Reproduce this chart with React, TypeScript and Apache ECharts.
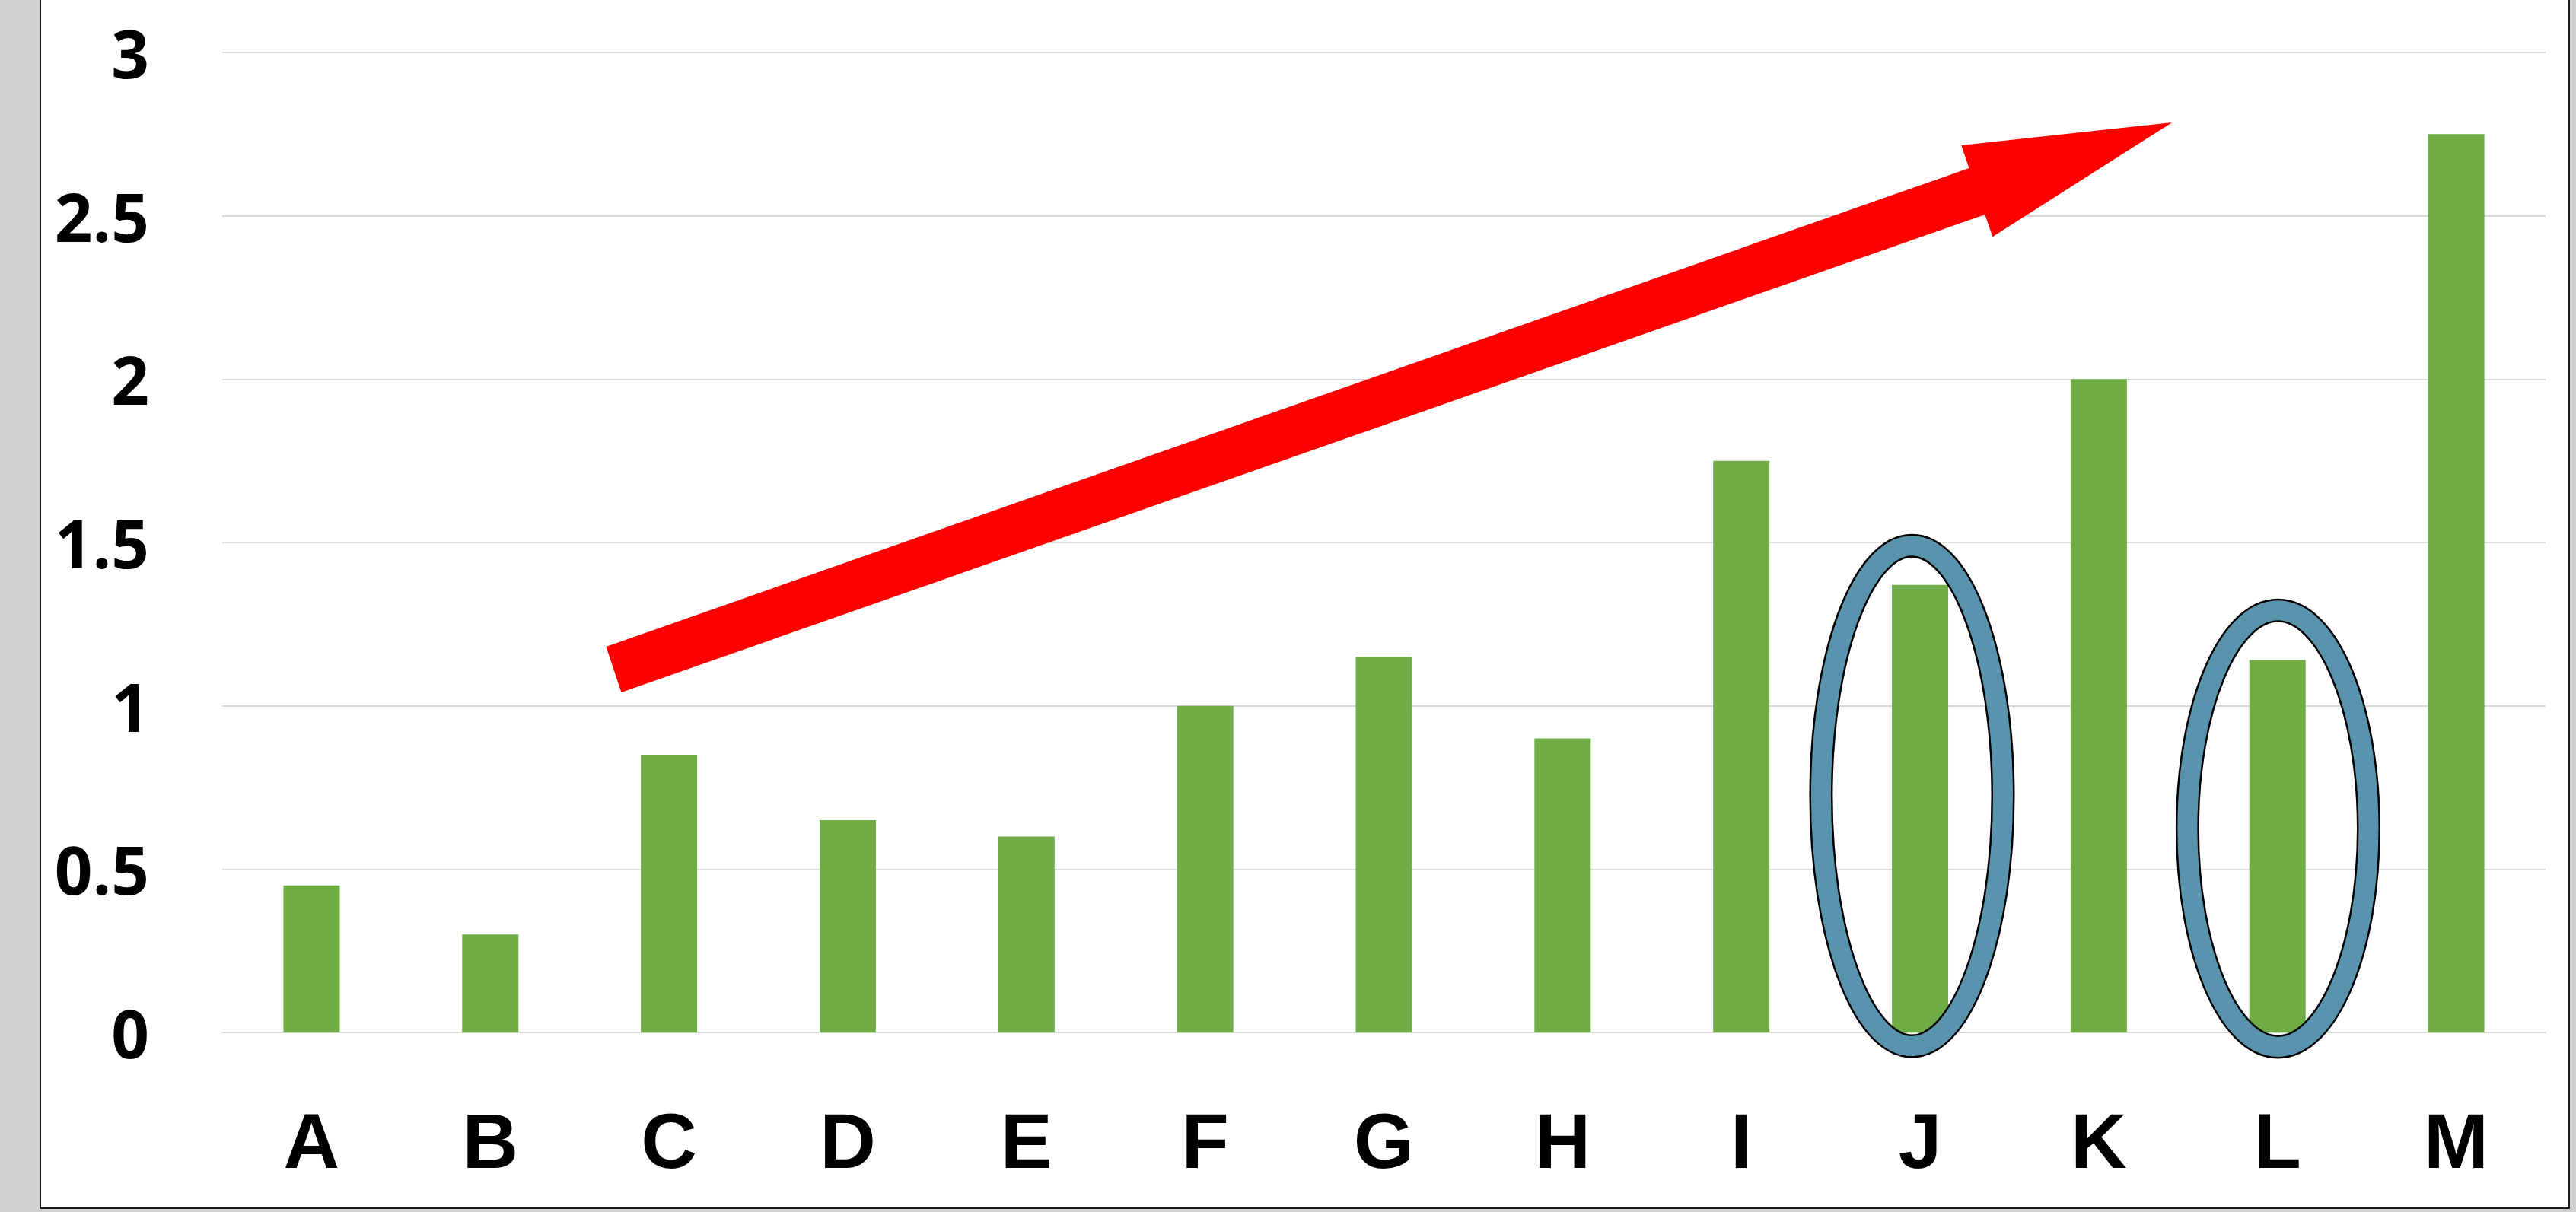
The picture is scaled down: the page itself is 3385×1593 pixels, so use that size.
import React, { useEffect, useRef } from "react";
import * as echarts from "echarts";

// ---- data ----
const categories: string[] = ["A", "B", "C", "D", "E", "F", "G", "H", "I", "J", "K", "L", "M"];
const values: number[] = [0.45, 0.3, 0.85, 0.65, 0.6, 1.0, 1.15, 0.9, 1.75, 1.37, 2.0, 1.14, 2.75];
const yMin = 0;
const yMax = 3;
const yInterval = 0.5;

// ---- annotations, in axis units (category index, value) ----
const arrowPoints: [number, number][] = [
  [1.648, 1.181],
  [9.274, 2.646],
  [9.231, 2.716],
  [10.411, 2.786],
  [9.406, 2.436],
  [9.363, 2.504],
  [1.733, 1.041],
];
// [centre category index, centre value, x radius (categories), y radius (value units)]
const ellipses: [number, number, number, number][] = [
  [8.955, 0.724, 0.509, 0.766],
  [11.003, 0.624, 0.507, 0.668],
];

const W = 3385;
const H = 1593;

export default function App() {
  const ref = useRef<HTMLDivElement>(null);

  useEffect(() => {
    document.body.style.margin = "0";
    if (!ref.current) return;
    const chart = echarts.init(ref.current, null, { renderer: "svg" });
    chart.setOption({
      animation: false,
      backgroundColor: "transparent",
      grid: { left: 292, right: 40, top: 69, bottom: 236, containLabel: false },
      xAxis: {
        type: "category",
        data: categories,
        axisLine: { show: true, lineStyle: { color: "#d9d9d9", width: 2 } },
        axisTick: { show: false },
        axisLabel: {
          color: "#000",
          fontFamily: "Liberation Sans",
          fontWeight: "bold",
          fontSize: 102,
          lineHeight: 102,
          margin: 92,
        },
      },
      yAxis: {
        type: "value",
        min: yMin,
        max: yMax,
        interval: yInterval,
        axisLine: { show: false },
        axisTick: { show: false },
        splitLine: { lineStyle: { color: "#d9d9d9", width: 2 } },
        axisLabel: {
          color: "#000",
          fontFamily: "Open Sans",
          fontWeight: "bold",
          fontSize: 87,
          margin: 96,
          formatter: (v: number) => String(v),
        },
      },
      series: [
        {
          type: "bar",
          data: values,
          barWidth: "31.5%",
          itemStyle: { color: "#70ad47" },
        },
      ],
    });

    const p0 = chart.convertToPixel({ gridIndex: 0 }, [0, 0]) as number[];
    const p1 = chart.convertToPixel({ gridIndex: 0 }, [1, 0]) as number[];
    const step = p1[0] - p0[0];
    const px = (idx: number) => p0[0] + idx * step;
    const py = (v: number) => (chart.convertToPixel({ gridIndex: 0 }, [0, v]) as number[])[1];
    const unitY = p0[1] - py(1);

    const graphic: any[] = [
      {
        type: "polygon",
        z: 100,
        shape: { points: arrowPoints.map(([i, v]) => [px(i), py(v)]) },
        style: { fill: "#ff0000" },
      },
    ];
    ellipses.forEach(([ci, cv, rx, ry]) => {
      const shape = { cx: px(ci), cy: py(cv), rx: rx * step, ry: ry * unitY };
      graphic.push({
        type: "ellipse",
        z: 101,
        shape,
        style: { fill: "none", stroke: "#000", lineWidth: 31 },
      });
      graphic.push({
        type: "ellipse",
        z: 102,
        shape,
        style: { fill: "none", stroke: "#5a93ad", lineWidth: 26 },
      });
    });
    chart.setOption({ graphic });

    return () => chart.dispose();
  }, []);

  return (
    <div style={{ position: "relative", width: W, height: H, background: "#d0d0d0", overflow: "hidden" }}>
      <div
        style={{
          position: "absolute",
          left: 52,
          top: -4,
          width: 3325,
          height: 1593,
          boxSizing: "border-box",
          background: "#fff",
          border: "2px solid #1a1a1a",
        }}
      />
      <div ref={ref} style={{ position: "absolute", left: 0, top: 0, width: W, height: H }} />
    </div>
  );
}
